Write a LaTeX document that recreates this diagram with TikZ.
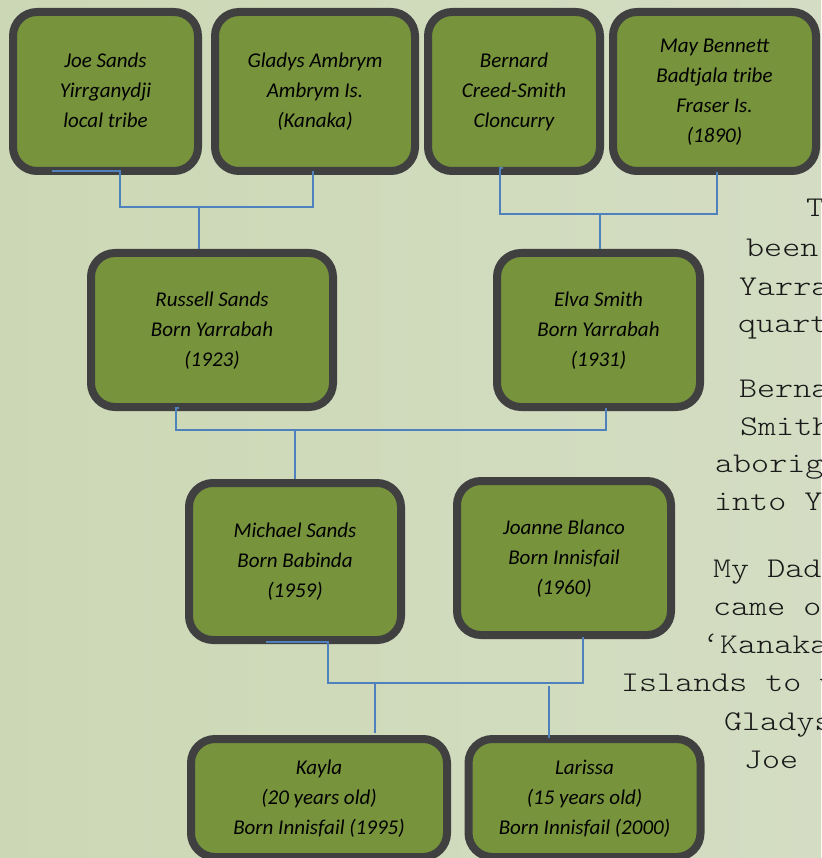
\documentclass[tikz,border=0pt]{standalone}
\usepackage{fontspec}
\newfontfamily\boxfont{Carlito}
\newfontfamily\notefont{lmmonolt10-regular.otf}[FakeStretch=1.2]
\definecolor{bgL}{RGB}{204,216,181}
\definecolor{bgR}{RGB}{212,221,195}
\definecolor{boxfill}{RGB}{119,147,60}
\definecolor{boxline}{RGB}{64,64,64}
\definecolor{linkc}{RGB}{79,129,189}
\begin{document}
\begin{tikzpicture}[x=1pt,y=-1pt,
  person/.style={draw=boxline, fill=boxfill, line width=8pt, rounded corners=24pt,
    align=center, inner sep=0pt, text=black,
    font=\boxfont\itshape\fontsize{21}{30}\selectfont},
  linkline/.style={draw=linkc, line width=2pt},
  note/.style={anchor=base west, inner sep=0pt, text=black!90,
    font=\notefont\fontsize{28.6}{36}\selectfont}]
\useasboundingbox (0,0) rectangle (821,858);
\shade[left color=bgL, right color=bgR] (0,0) rectangle (821,858);

% generation 1
\node[person, minimum width=185pt, minimum height=159pt] (joe) at (105.5,91.5)
  {\strut Joe Sands\\\strut Yirrganydji\\\strut local tribe};
\node[person, minimum width=200pt, minimum height=159pt] (gladys) at (315,91.5)
  {\strut Gladys Ambrym\\\strut Ambrym Is.\\\strut (Kanaka)};
\node[person, minimum width=172pt, minimum height=159pt] (bernard) at (514,91.5)
  {\strut Bernard\\\strut Creed-Smith\\\strut Cloncurry};
\node[person, minimum width=203pt, minimum height=159pt] (may) at (714.5,91.5)
  {\strut May Bennett\\\strut Badtjala tribe\\\strut Fraser Is.\\\strut (1890)};

% generation 2
\node[person, minimum width=242pt, minimum height=154pt] (russell) at (212,330)
  {\strut Russell Sands\\\strut Born Yarrabah\\\strut (1923)};
\node[person, minimum width=203pt, minimum height=154pt] (elva) at (598.5,330)
  {\strut Elva Smith\\\strut Born Yarrabah\\\strut (1931)};

% generation 3
\node[person, minimum width=212pt, minimum height=157pt] (michael) at (295,561.5)
  {\strut Michael Sands\\\strut Born Babinda\\\strut (1959)};
\node[person, minimum width=214pt, minimum height=154pt] (joanne) at (564,558)
  {\strut Joanne Blanco\\\strut Born Innisfail\\\strut (1960)};

% generation 4
\node[person, minimum width=256pt, minimum height=118pt] (kayla) at (319,798)
  {\strut Kayla\\\strut (20 years old)\\\strut Born Innisfail (1995)};
\node[person, minimum width=232pt, minimum height=118pt] (larissa) at (584.5,798)
  {\strut Larissa\\\strut (15 years old)\\\strut Born Innisfail (2000)};

% connector coordinates
\coordinate (jA) at (52,171);
\coordinate (jB) at (120,207);
\coordinate (jC) at (313,171);
\coordinate (jM) at (199,207);
\coordinate (bH) at (503,168);
\coordinate (bA) at (500,168);
\coordinate (bB) at (717,214);
\coordinate (bC) at (717,172);
\coordinate (bM) at (600,214);
\coordinate (rH) at (179,408);
\coordinate (rA) at (176,408);
\coordinate (rB) at (606,430);
\coordinate (rC) at (606,408);
\coordinate (rM) at (295,430);
\coordinate (mA) at (266,642);
\coordinate (mB) at (328,683);
\coordinate (mC) at (583,637);
\coordinate (mK) at (375,684);
\coordinate (mL) at (549,686);

% connectors
\draw[linkline] (jA) -| (jB) -| (jC);
\draw[linkline] (jM) -- (jM |- russell.north);
\draw[linkline] (bH) -- (bA) |- (bB) -- (bC);
\draw[linkline] (bM) -- (bM |- elva.north);
\draw[linkline] (rH) -- (rA) |- (rB) -- (rC);
\draw[linkline] (rM) -- (rM |- michael.north);
\draw[linkline] (mA) -| (mB) -| (mC);
\draw[linkline] (mK) -- ([yshift=2pt]mK |- kayla.north);
\draw[linkline] (mL) -- ([yshift=-3pt]mL |- larissa.north);

% side text (cut off at the right edge, as in the original)
\node[note] (t1) at (806,217) {T};
\node[note] (t2) at (746,257) {been};
\node[note] (t3) at (739,295) {Yarra};
\node[note] (t4) at (738,332) {quart};
\node[note] (t5) at (739,397) {Berna};
\node[note] (t6) at (740,435) {Smith};
\node[note] (t7) at (715,472) {aborig};
\node[note] (t8) at (714,510) {into Y};
\node[note] (t9) at (713,577) {My Dad};
\node[note] (t10) at (713,615) {came o};
\node[note] (t11) at (702,653) {‘Kanaka};
\node[note] (t12) at (621,691) {Islands to w};
\node[note] (t13) at (724,730) {Gladys};
\node[note] (t14) at (744,768) {Joe};
\end{tikzpicture}
\end{document}
